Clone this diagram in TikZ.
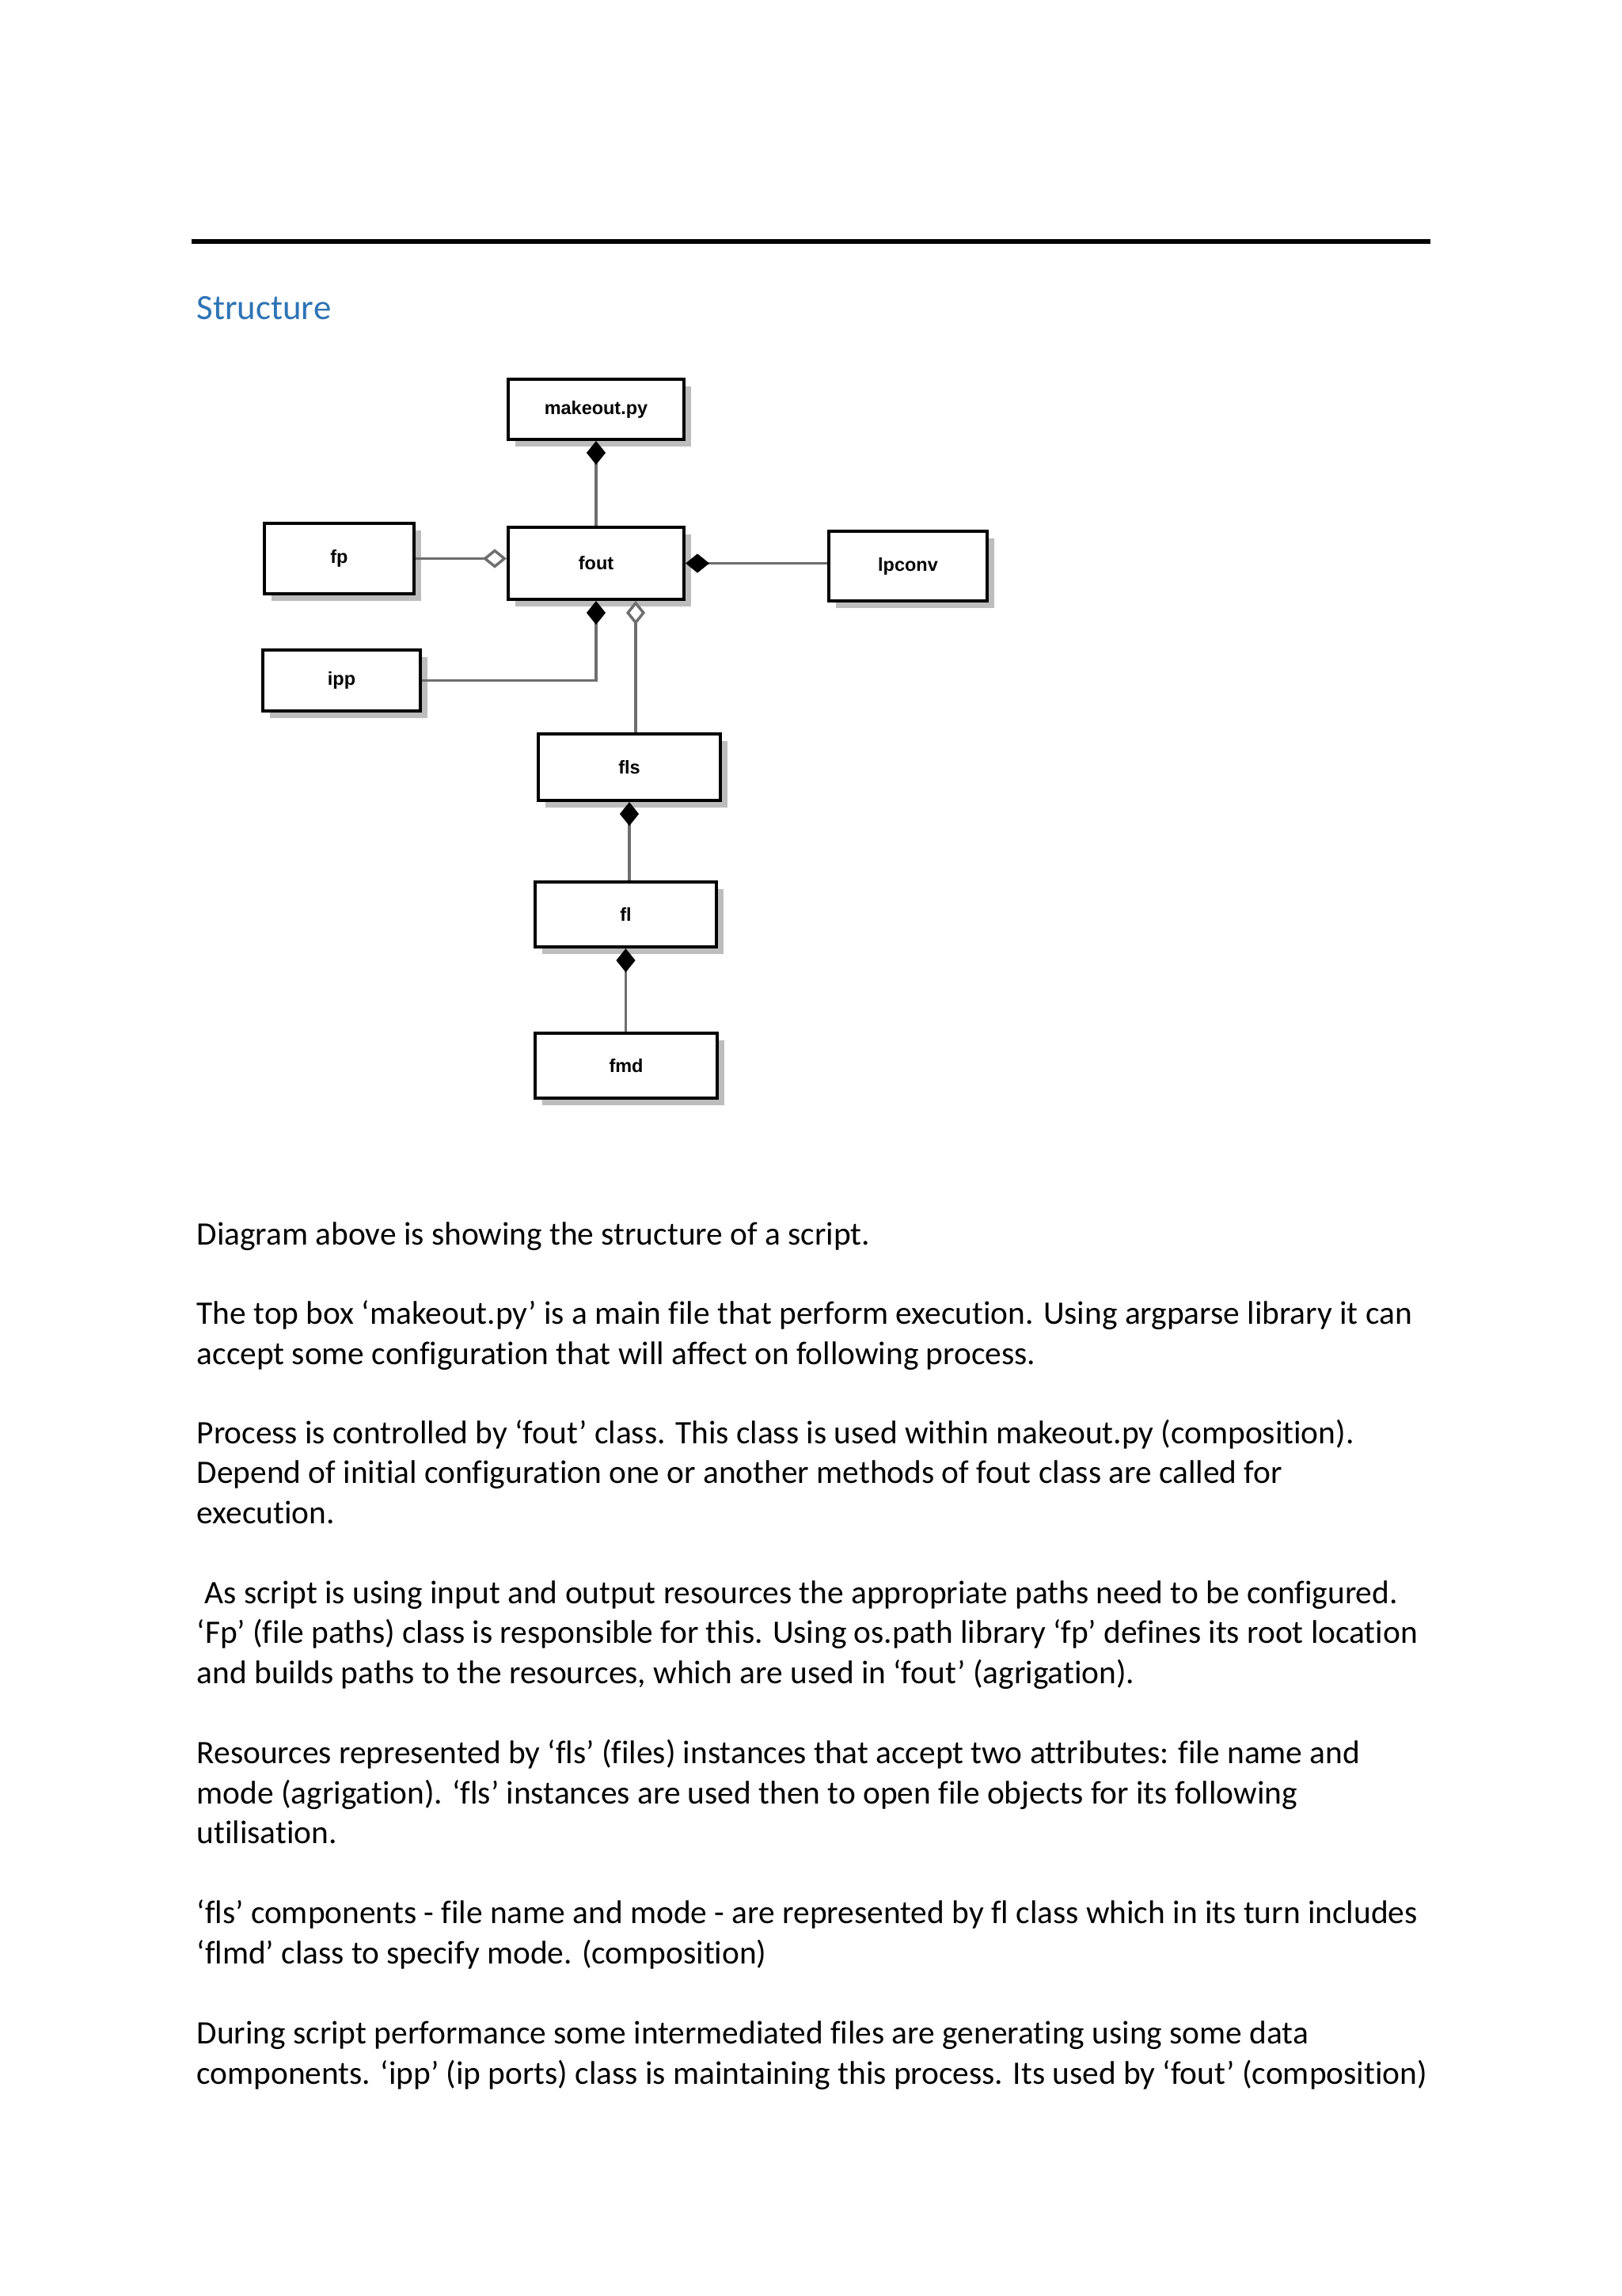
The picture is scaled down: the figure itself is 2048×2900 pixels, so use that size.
\documentclass[tikz,border=0pt]{standalone}
\usepackage{fontspec}
\setmainfont{Carlito}[Ligatures=NoCommon]
\newfontfamily\boxfont{Liberation Sans}
\usetikzlibrary{arrows.meta,shadows}
\definecolor{headblue}{HTML}{2E74B5}
\definecolor{shadowgrey}{HTML}{BDBDBD}
\definecolor{linegrey}{HTML}{6E6E6E}
\begin{document}
\begin{tikzpicture}[x=0.29pt,y=-0.29pt,
  cls/.style={draw=black, line width=1.16pt, fill=white, inner sep=0pt,
    font=\boxfont\bfseries\fontsize{6.8}{8}\selectfont,
    general shadow={fill=shadowgrey, shadow xshift=2.6pt, shadow yshift=-2.6pt}},
  conn/.style={draw=linegrey, line width=1pt},
  compend/.style={-{Diamond[length=8.7pt,width=7pt,color=black,fill=black]}},
  compstart/.style={{Diamond[length=8.7pt,width=7pt,color=black,fill=black]}-},
  aggend/.style={-{Diamond[length=8.7pt,width=7pt,open,fill=white]}},
  aggstart/.style={{Diamond[length=8.7pt,width=7pt,open,fill=white]}-},
  txt/.style={anchor=base west, inner sep=0pt, font=\fontsize{12}{14}\selectfont}]

\path[fill=white] (0,0) rectangle (2048,2900);

% top rule and heading
\fill[black] (242,302) rectangle (1807,308);
\node[anchor=base west, inner sep=0pt, text=headblue, font=\fontsize{13}{15}\selectfont] (head) at (248,403) {Structure};

% class boxes
\node[cls, minimum width=64.4pt, minimum height=22.0pt] (makeout) at (753,517) {makeout.py};
\node[cls, minimum width=64.4pt, minimum height=26.4pt] (fout) at (753,711.5) {fout};
\node[cls, minimum width=54.8pt, minimum height=25.8pt] (fp) at (428.5,705.5) {fp};
\node[cls, minimum width=58.0pt, minimum height=25.5pt] (lpconv) at (1147,715) {lpconv};
\node[cls, minimum width=57.7pt, minimum height=22.3pt] (ipp) at (431.5,859.5) {ipp};
\node[cls, minimum width=66.7pt, minimum height=24.4pt] (fls) at (795,969) {fls};
\node[cls, minimum width=66.4pt, minimum height=23.8pt] (fl) at (790.5,1155) {fl};
\node[cls, minimum width=66.7pt, minimum height=23.8pt] (fmd) at (791,1346) {fmd};

% connectors
\draw[conn, compend] (fout.north) -- (makeout.south);
\draw[conn, aggend] (fp.east) -- (fp.east -| fout.west);
\draw[conn, compstart] (fout.east) -- (fout.east -| lpconv.west);
\draw[conn, compstart] (fout.south) |- (ipp.east);
\draw[conn, aggstart] ([xshift=14.5pt]fout.south) -- ([xshift=14.5pt]fout.south |- fls.north);
\draw[conn, compstart] (fls.south) -- (fls.south |- fl.north);
\draw[conn, compstart] (fl.south) -- (fl.south |- fmd.north);

% body text
\node[txt] (t1) at (248,1572) {Diagram above is showing the structure of a script.};
\node[txt] (t2) at (248,1672) {The top box ‘makeout.py’ is a main file that perform execution. Using argparse library it can};
\node[txt] (t3) at (248,1723) {accept some configuration that will affect on following process.};
\node[txt] (t4) at (248,1823) {Process is controlled by ‘fout’ class. This class is used within makeout.py (composition).};
\node[txt] (t5) at (248,1873) {Depend of initial configuration one or another methods of fout class are called for};
\node[txt] (t6) at (248,1924) {execution.};
\node[txt] (t7) at (258,2025) {As script is using input and output resources the appropriate paths need to be configured.};
\node[txt] (t8) at (248,2075) {‘Fp’ (file paths) class is responsible for this. Using os.path library ‘fp’ defines its root location};
\node[txt] (t9) at (248,2126) {and builds paths to the resources, which are used in ‘fout’ (agrigation).};
\node[txt] (t10) at (248,2227) {Resources represented by ‘fls’ (files) instances that accept two attributes: file name and};
\node[txt] (t11) at (248,2278) {mode (agrigation). ‘fls’ instances are used then to open file objects for its following};
\node[txt] (t12) at (248,2328) {utilisation.};
\node[txt] (t13) at (248,2429) {‘fls’ components - file name and mode - are represented by fl class which in its turn includes};
\node[txt] (t14) at (248,2480) {‘flmd’ class to specify mode. (composition)};
\node[txt] (t15) at (248,2581) {During script performance some intermediated files are generating using some data};
\node[txt] (t16) at (248,2632) {components. ‘ipp’ (ip ports) class is maintaining this process. Its used by ‘fout’ (composition)};
\end{tikzpicture}
\end{document}
